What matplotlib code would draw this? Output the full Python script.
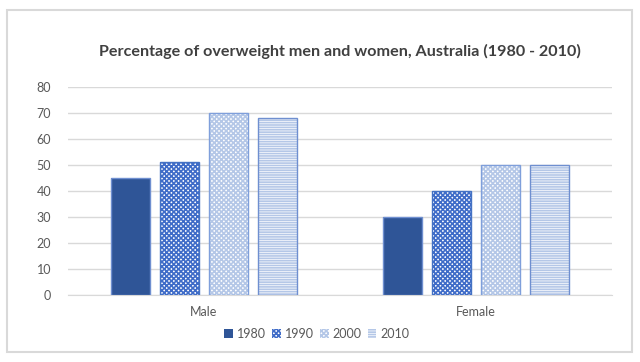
import numpy as np
import matplotlib.pyplot as plt
from matplotlib.patches import Rectangle

plt.rcParams['font.family'] = ['Lato', 'DejaVu Sans']
plt.rcParams['hatch.linewidth'] = 1.2

# data
categories = ['Male', 'Female']
years = ['1980', '1990', '2000', '2010']
values = {
    '1980': [45, 30],
    '1990': [51, 40],
    '2000': [70, 50],
    '2010': [68, 50],
}
yticks = [0, 10, 20, 30, 40, 50, 60, 70, 80]

# styles per series
faces = ['#2F5597', 'white', 'white', 'white']
hatches = [None, 'xxxxxxx', 'xxxxxxx', '-------']
hatch_cols = ['#2F5597', '#3F6CC8', '#B4C7E7', '#B4C7E7']
edges = ['#6F8FD0', '#4472C4', '#7F9FDB', '#6F8FD0']

fig = plt.figure(figsize=(6.4, 3.62), dpi=100)
# outer frame
fig.patches.append(Rectangle((6.5 / 640, 1 - 352 / 362), 625 / 640, 342 / 362,
                             transform=fig.transFigure, fill=False,
                             edgecolor='#D9D9D9', linewidth=1.5))

ax = fig.add_axes([68 / 640, 1 - 295 / 362, 544 / 640, 208 / 362])

x = np.arange(len(categories))
width = 0.143
step = 0.18
for i, yr in enumerate(years):
    off = (i - 1.5) * step
    ax.bar(x + off, values[yr], width, color=faces[i],
           edgecolor=hatch_cols[i], linewidth=0, hatch=hatches[i],
           label=yr, zorder=3)
    # outline drawn separately so hatch colour and edge colour can differ
    ax.bar(x + off, values[yr], width, fill=False, edgecolor=edges[i],
           linewidth=1.0, zorder=4)

ax.set_xlim(-0.5, 1.5)
ax.set_ylim(0, 80)
ax.set_yticks(yticks)
ax.set_xticks(x)
ax.set_xticklabels(categories)
ax.grid(axis='y', color='#D9D9D9', linewidth=1.0, zorder=0)
for s in ax.spines.values():
    s.set_visible(False)
ax.spines['bottom'].set_visible(True)
ax.spines['bottom'].set_color('#D9D9D9')
ax.tick_params(axis='both', length=0, labelsize=9, colors='#595959', pad=8)
ax.tick_params(axis='y', pad=12)

fig.text(340 / 640, 1 - 51 / 362, 'Percentage of overweight men and women, Australia (1980 - 2010)',
         ha='center', va='center', fontsize=11.6, color='#404040', fontweight='bold')

leg = fig.legend(loc='center', bbox_to_anchor=(0.495, 1 - 334 / 362), ncol=4,
                 frameon=False, fontsize=9, handlelength=0.7, handleheight=0.7,
                 handletextpad=0.3, columnspacing=0.5)
for t in leg.get_texts():
    t.set_color('#595959')

fig.savefig('out.png', dpi=100)
